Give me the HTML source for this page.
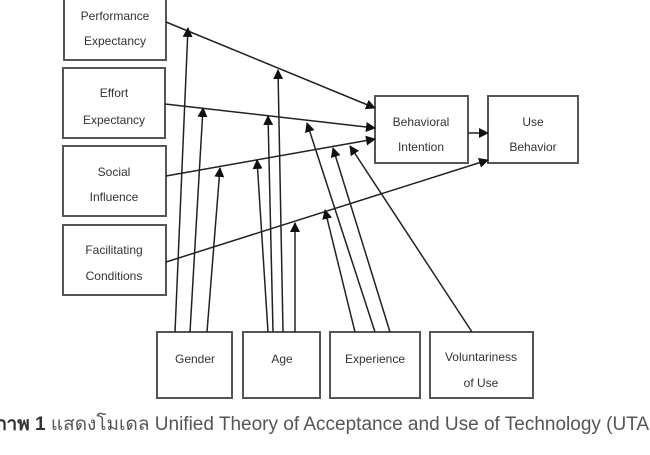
<!DOCTYPE html>
<html><head><style>
body{margin:0;background:#fff;width:650px;height:450px;overflow:hidden}
svg text{font-family:"Liberation Sans","DejaVu Sans",sans-serif;font-size:12px;fill:#333}
</style></head><body>
<svg width="650" height="450" viewBox="0 0 650 450">
<defs><marker id="a" markerWidth="10" markerHeight="10" refX="9" refY="5" orient="auto" markerUnits="userSpaceOnUse"><path d="M0,0L10,5L0,10z" fill="#111"/></marker></defs>
<g fill="#fff" stroke="#555" stroke-width="2">
<rect x="64" y="-5" width="102" height="65"/>
<rect x="63" y="68" width="102" height="70"/>
<rect x="63" y="146" width="103" height="70"/>
<rect x="63" y="225" width="103" height="70"/>
<rect x="375" y="96" width="93" height="67"/>
<rect x="488" y="96" width="90" height="67"/>
<rect x="157" y="332" width="75" height="66"/>
<rect x="243" y="332" width="77" height="66"/>
<rect x="330" y="332" width="90" height="66"/>
<rect x="430" y="332" width="103" height="66"/>
</g>
<g stroke="#222" stroke-width="1.5" marker-end="url(#a)">
<line x1="166" y1="22" x2="375" y2="108"/>
<line x1="165" y1="104" x2="375" y2="128"/>
<line x1="166" y1="176" x2="375" y2="139"/>
<line x1="166" y1="262" x2="488" y2="160"/>
<line x1="468" y1="133" x2="488" y2="133"/>
<line x1="175" y1="332" x2="188" y2="28"/>
<line x1="190" y1="332" x2="203" y2="108"/>
<line x1="207" y1="332" x2="220" y2="168"/>
<line x1="268" y1="332" x2="257" y2="160"/>
<line x1="273" y1="332" x2="268" y2="116"/>
<line x1="283" y1="332" x2="278" y2="70"/>
<line x1="295" y1="332" x2="295" y2="223"/>
<line x1="355" y1="332" x2="325" y2="210"/>
<line x1="375" y1="332" x2="307" y2="123"/>
<line x1="390" y1="332" x2="333" y2="148"/>
<line x1="472" y1="332" x2="350" y2="146"/>
</g>
<g text-anchor="middle">
<text x="115" y="20">Performance</text><text x="115" y="45">Expectancy</text>
<text x="114" y="97">Effort</text><text x="114" y="124">Expectancy</text>
<text x="114" y="176">Social</text><text x="114" y="201">Influence</text>
<text x="114" y="254">Facilitating</text><text x="114" y="280">Conditions</text>
<text x="421" y="126">Behavioral</text><text x="421" y="151">Intention</text>
<text x="533" y="126">Use</text><text x="533" y="151">Behavior</text>
<text x="195" y="363">Gender</text>
<text x="282" y="363">Age</text>
<text x="375" y="363">Experience</text>
<text x="481" y="361">Voluntariness</text><text x="481" y="387">of Use</text>
</g>
<text x="-6" y="430" style="font-size:19px;fill:#555;font-family:'Liberation Sans','Noto Sans CJK SC',sans-serif"><tspan style="font-weight:bold;fill:#333">ภาพ 1</tspan> แสดงโมเดล Unified Theory of Acceptance and Use of Technology (UTAUT)</text>
</svg>
</body></html>
